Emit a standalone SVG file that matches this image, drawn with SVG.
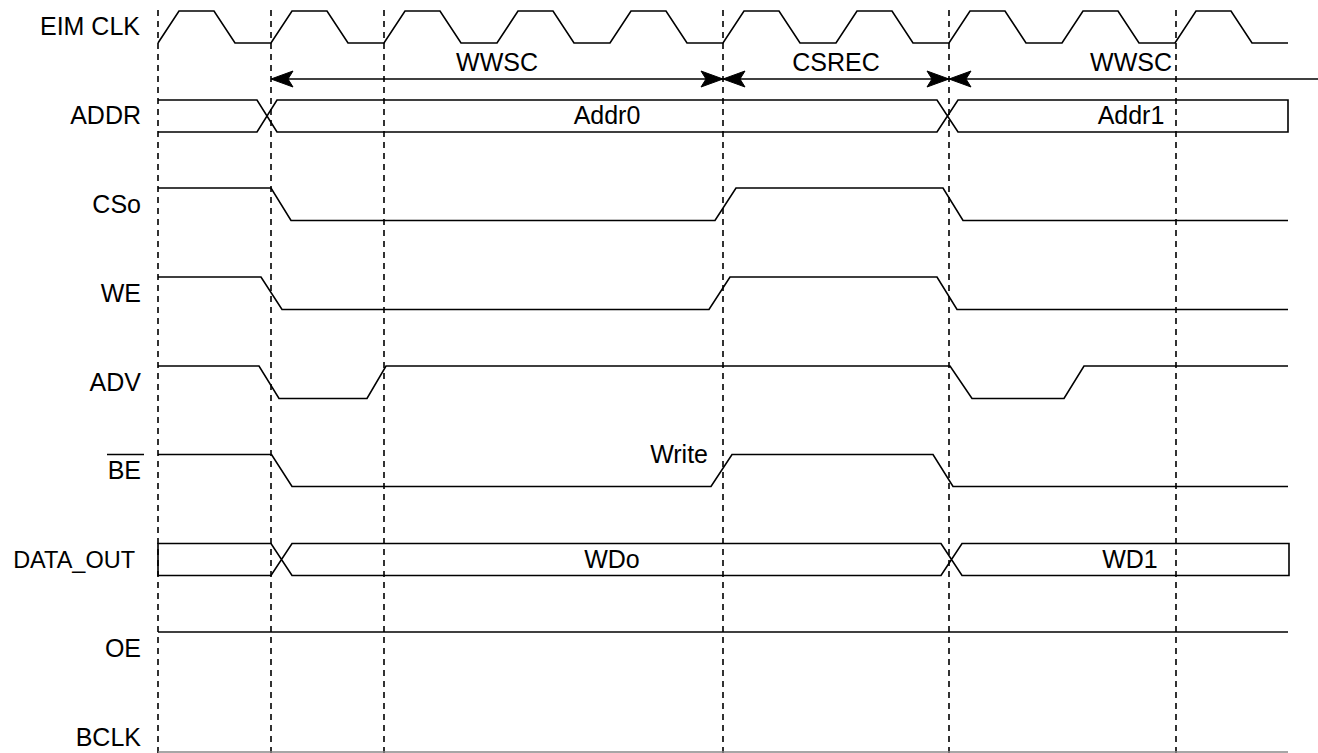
<svg xmlns="http://www.w3.org/2000/svg" width="1318" height="753" viewBox="0 0 1318 753">
<defs>
<style>
text{font-family:"Liberation Sans",Arial,Helvetica,sans-serif;font-size:25px;fill:#000}
.lbl{text-anchor:end}
.mid{text-anchor:middle}
.sig{fill:none;stroke:#000;stroke-width:1.6;stroke-linejoin:miter}
.grid{fill:none;stroke:#000;stroke-width:1.6;stroke-dasharray:6 5}
.dim{fill:none;stroke:#000;stroke-width:1.5}
.head{fill:#000;stroke:#000;stroke-width:1}
</style>
</defs>
<rect width="1318" height="753" fill="#fff"/>
<g id="gridlines">
<line class="grid" x1="158" y1="10" x2="158" y2="753"/>
<line class="grid" x1="271" y1="10" x2="271" y2="753"/>
<line class="grid" x1="384" y1="10" x2="384" y2="753"/>
<line class="grid" x1="723" y1="10" x2="723" y2="753"/>
<line class="grid" x1="949" y1="10" x2="949" y2="753"/>
<line class="grid" x1="1176" y1="10" x2="1176" y2="753"/>
</g>
<g id="labels">
<text class="lbl" x="140" y="35">EIM CLK</text>
<text class="lbl" x="141" y="124">ADDR</text>
<text class="lbl" x="141" y="213">CSo</text>
<text class="lbl" x="141" y="302">WE</text>
<text class="lbl" x="141" y="391">ADV</text>
<text class="lbl" x="141" y="479">BE</text>
<line x1="107" y1="454.5" x2="144" y2="454.5" stroke="#000" stroke-width="1.5"/>
<text class="lbl" x="135" y="568" style="font-size:23.5px">DATA_OUT</text>
<text class="lbl" x="141" y="657">OE</text>
<text class="lbl" x="141" y="746">BCLK</text>
</g>
<g id="eim-clk">
<path class="sig" d="M158,43 L179,11 L214,11 L235,43 L271,43 L292,11 L327,11 L348,43 L384,43 L405,11 L440,11 L461,43 L497,43 L518,11 L553,11 L574,43 L610,43 L631,11 L666,11 L687,43 L723,43 L744,11 L779,11 L800,43 L836,43 L857,11 L892,11 L913,43 L949,43 L970,11 L1005,11 L1026,43 L1062,43 L1083,11 L1118,11 L1139,43 L1175,43 L1196,11 L1231,11 L1252,43 L1288,43"/>
</g>
<g id="connectors">
<line class="dim" x1="280" y1="79" x2="1318" y2="79"/>
<path class="head" d="M271,79 L293,71 L288,79 L293,87 Z"/>
<path class="head" d="M723,79 L701,71 L706,79 L701,87 Z"/>
<path class="head" d="M723,79 L745,71 L740,79 L745,87 Z"/>
<path class="head" d="M949,79 L927,71 L932,79 L927,87 Z"/>
<path class="head" d="M949,79 L971,71 L966,79 L971,87 Z"/>
<text class="mid" x="497" y="71">WWSC</text>
<text class="mid" x="836" y="71">CSREC</text>
<text class="mid" x="1131" y="71">WWSC</text>
</g>
<g id="addr">
<path class="sig" d="M158,100 L257,100 L277,132 L937,132 L958,100 L1288,100 L1288,132 L958,132 L937,100 L277,100 L257,132 L158,132"/>
<text class="mid" x="607" y="124">Addr0</text>
<text class="mid" x="1131" y="124">Addr1</text>
</g>
<g id="cso">
<path class="sig" d="M158,188 L271,188 L291,220.5 L715,220.5 L736,188 L943,188 L963,220.5 L1288,220.5"/>
</g>
<g id="we">
<path class="sig" d="M158,277 L261,277 L282,309.5 L709,309.5 L730,277 L937,277 L957,309.5 L1288,309.5"/>
</g>
<g id="adv">
<path class="sig" d="M158,366 L259,366 L279,398.5 L367,398.5 L386,366 L950,366 L972,398.5 L1064,398.5 L1084,366 L1288,366"/>
</g>
<g id="be">
<path class="sig" d="M158,454.5 L271.5,454.5 L292,486.5 L711,486.5 L732,454.5 L933,454.5 L953,486.5 L1288,486.5"/>
<text class="lbl" x="708" y="463">Write</text>
</g>
<g id="data-out">
<path class="sig" d="M158,543.5 L271,543.5 L292,575.5 L941,575.5 L962,543.5 L1289,543.5 L1289,575.5 L962,575.5 L941,543.5 L292,543.5 L271,575.5 L158,575.5 Z"/>
<text class="mid" x="612" y="568">WDo</text>
<text class="mid" x="1130" y="568">WD1</text>
</g>
<g id="oe">
<line class="sig" x1="158" y1="632" x2="1288" y2="632"/>
</g>
<g id="bclk">
<line x1="158" y1="752" x2="1288" y2="752" stroke="#888" stroke-width="1.5"/>
</g>
</svg>
